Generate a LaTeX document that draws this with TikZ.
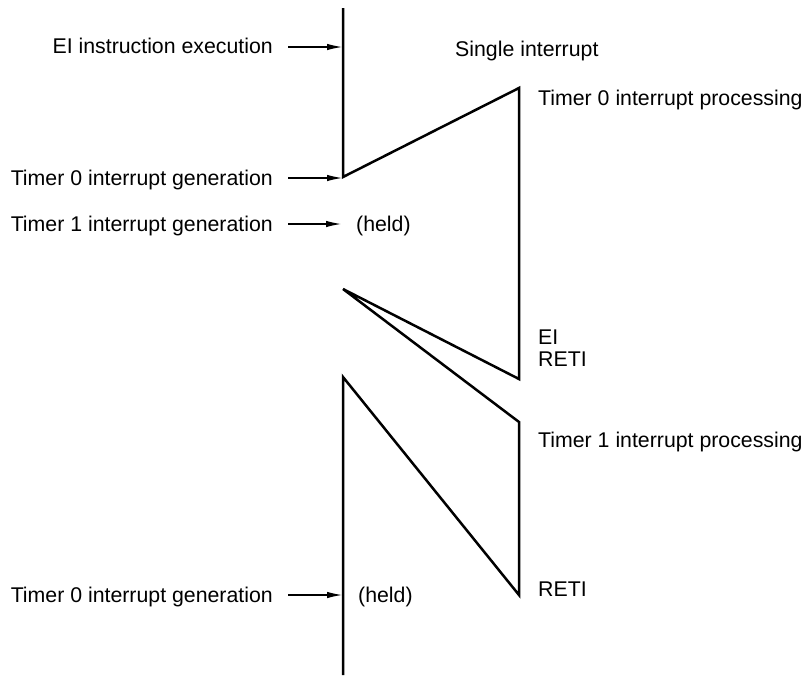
\documentclass[tikz,border=0pt]{standalone}
\usepackage{fontspec}
\setmainfont{Liberation Sans}
\usetikzlibrary{arrows.meta}
\begin{document}
\begin{tikzpicture}[x=1pt,y=-1pt,
  lbl/.style={inner sep=0pt, font=\fontsize{21.3}{22}\selectfont},
  flow/.style={line width=2.5pt},
  arr/.style={line width=1.1pt, -{Latex[length=15pt,width=6.5pt]}}]
\useasboundingbox (0,0) rectangle (806,675);
% flow path vertices
\coordinate (top) at (343,8);
\coordinate (p1) at (343,177);
\coordinate (p2) at (519,88);
\coordinate (p3) at (519,379);
\coordinate (p4) at (343,289);
\coordinate (p5) at (519,422);
\coordinate (p6) at (519,595);
\coordinate (p7) at (343,377);
\coordinate (bot) at (343,675);
\draw[flow] (top) -- (p1) -- (p2) -- (p3) -- (p4) -- (p5) -- (p6) -- (p7) -- (bot);
% labels
\node[lbl, anchor=base east] (eiexec) at (273,53) {EI instruction execution};
\node[lbl, anchor=base west] (single) at (455,56) {Single interrupt};
\node[lbl, anchor=base west] (t0proc) at (538,105) {Timer 0 interrupt processing};
\node[lbl, anchor=base east] (t0gen) at (273,185) {Timer 0 interrupt generation};
\node[lbl, anchor=base east] (t1gen) at (273,231) {Timer 1 interrupt generation};
\node[lbl, anchor=base west] (held1) at (356,231) {(held)};
\node[lbl, anchor=base west] (ei) at (538,344) {EI};
\node[lbl, anchor=base west] (reti1) at (538,366) {RETI};
\node[lbl, anchor=base west] (t1proc) at (538,447) {Timer 1 interrupt processing};
\node[lbl, anchor=base west] (reti2) at (538,596) {RETI};
\node[lbl, anchor=base east] (t0gen2) at (273,602) {Timer 0 interrupt generation};
\node[lbl, anchor=base west] (held2) at (358,602) {(held)};
% arrows
\coordinate (a1s) at (288,47);  \coordinate (a1e) at (342,47);
\coordinate (a2s) at (288,178); \coordinate (a2e) at (342,178);
\coordinate (a3s) at (288,224); \coordinate (a3e) at (341,224);
\coordinate (a4s) at (288,595); \coordinate (a4e) at (342,595);
\draw[arr] (a1s) -- (a1e);
\draw[arr] (a2s) -- (a2e);
\draw[arr] (a3s) -- (a3e);
\draw[arr] (a4s) -- (a4e);
\end{tikzpicture}
\end{document}
